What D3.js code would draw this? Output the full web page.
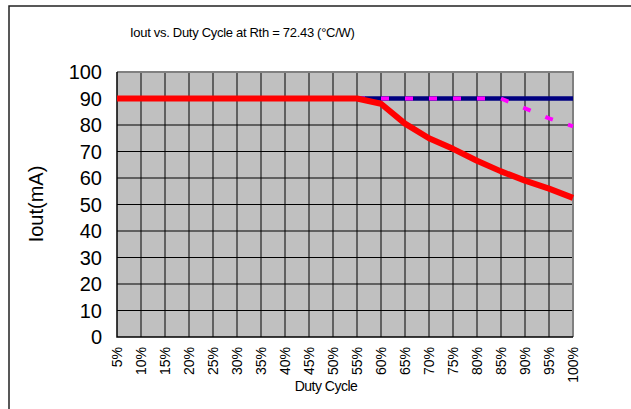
<!DOCTYPE html>
<html>
<head>
<meta charset="utf-8">
<script src="https://cdn.jsdelivr.net/npm/d3@7"></script>
<style>
  body { margin: 0; background: #fff; }
  text { font-family: Arial, "Liberation Sans", sans-serif; fill: #000; }
</style>
</head>
<body>
<div id="chart"></div>
<script>
const width = 631;
const height = 409;

// category labels on the x axis
const dutyCycle = ["5%","10%","15%","20%","25%","30%","35%","40%","45%","50%",
                   "55%","60%","65%","70%","75%","80%","85%","90%","95%","100%"];
// series values (mA)
const ioutLimit = [90,90,90,90,90,90,90,90,90,90,90,90,90,90,90,90,90,90,90,90];
const ioutAlt   = [90,90,90,90,90,90,90,90,90,90,90,90,90,90,90,90,90,86.3,82.5,79.5];
const ioutRth   = [90,90,90,90,90,90,90,90,90,90,90,88,80.5,75,71,66.5,62.5,59,56,52.5];
const yTicks = [0,10,20,30,40,50,60,70,80,90,100];

const margin = {left: 117, top: 72, right: 573, bottom: 337};

const svg = d3.select("#chart").append("svg")
  .attr("width", width)
  .attr("height", height);

// outer chart frame (cut off on the right and bottom)
svg.append("rect")
  .attr("x", 9).attr("y", 6)
  .attr("width", 700).attr("height", 500)
  .attr("fill", "none")
  .attr("stroke", "#222")
  .attr("stroke-width", 1.5);

const x = d3.scalePoint()
  .domain(dutyCycle)
  .range([margin.left, margin.right]);

const y = d3.scaleLinear()
  .domain([0, 100])
  .range([margin.bottom, margin.top]);

// plot background
svg.append("rect")
  .attr("x", margin.left).attr("y", margin.top)
  .attr("width", margin.right - margin.left)
  .attr("height", margin.bottom - margin.top)
  .attr("fill", "#c0c0c0");

// grid lines
svg.append("g")
  .selectAll("line")
  .data(yTicks.slice(1, -1))
  .join("line")
    .attr("x1", margin.left).attr("x2", margin.right)
    .attr("y1", d => y(d)).attr("y2", d => y(d))
    .attr("stroke", "#000").attr("stroke-width", 1);

svg.append("g")
  .selectAll("line")
  .data(dutyCycle.slice(1, -1))
  .join("line")
    .attr("x1", d => x(d)).attr("x2", d => x(d))
    .attr("y1", margin.top).attr("y2", margin.bottom)
    .attr("stroke", "#000").attr("stroke-width", 1);

// plot border: grey top/right, black axis lines left/bottom
svg.append("path")
  .attr("d", `M${margin.left},${margin.top}H${margin.right}V${margin.bottom}`)
  .attr("fill", "none").attr("stroke", "#808080").attr("stroke-width", 2);
svg.append("path")
  .attr("d", `M${margin.left},${margin.top}V${margin.bottom}H${margin.right}`)
  .attr("fill", "none").attr("stroke", "#000").attr("stroke-width", 1.5);

// y axis labels
svg.append("g")
  .selectAll("text")
  .data(yTicks)
  .join("text")
    .attr("x", 102)
    .attr("y", d => y(d))
    .attr("dy", "0.36em")
    .attr("text-anchor", "end")
    .style("font-size", "20px")
    .text(d => d);

// x axis labels, rotated
svg.append("g")
  .selectAll("text")
  .data(dutyCycle)
  .join("text")
    .attr("transform", d => `translate(${x(d) + 5},347) rotate(-90)`)
    .attr("text-anchor", "end")
    .style("font-size", "14px")
    .text(d => d);

// titles
svg.append("text")
  .attr("x", 130).attr("y", 37)
  .style("font-size", "13px")
  .style("letter-spacing", "-0.3px")
  .text("Iout vs. Duty Cycle at Rth = 72.43 (°C/W)");

svg.append("text")
  .attr("transform", "translate(43,204) rotate(-90)")
  .attr("text-anchor", "middle")
  .style("font-size", "20px")
  .text("Iout(mA)");

svg.append("text")
  .attr("x", 326).attr("y", 391)
  .attr("text-anchor", "middle")
  .style("font-size", "14px")
  .style("letter-spacing", "-0.5px")
  .text("Duty Cycle");

// series lines
const line = d3.line()
  .x((d, i) => x(dutyCycle[i]))
  .y(d => y(d));

svg.append("path")
  .datum(ioutLimit)
  .attr("d", line)
  .attr("fill", "none")
  .attr("stroke", "#000080")
  .attr("stroke-width", 4.5);

svg.append("path")
  .datum(ioutAlt)
  .attr("d", line)
  .attr("fill", "none")
  .attr("stroke", "#ff00ff")
  .attr("stroke-width", 4)
  .attr("stroke-dasharray", "8 16");

svg.append("path")
  .datum(ioutRth)
  .attr("d", line)
  .attr("fill", "none")
  .attr("stroke", "#ff0000")
  .attr("stroke-width", 6)
  .attr("stroke-linejoin", "round");
</script>
</body>
</html>
